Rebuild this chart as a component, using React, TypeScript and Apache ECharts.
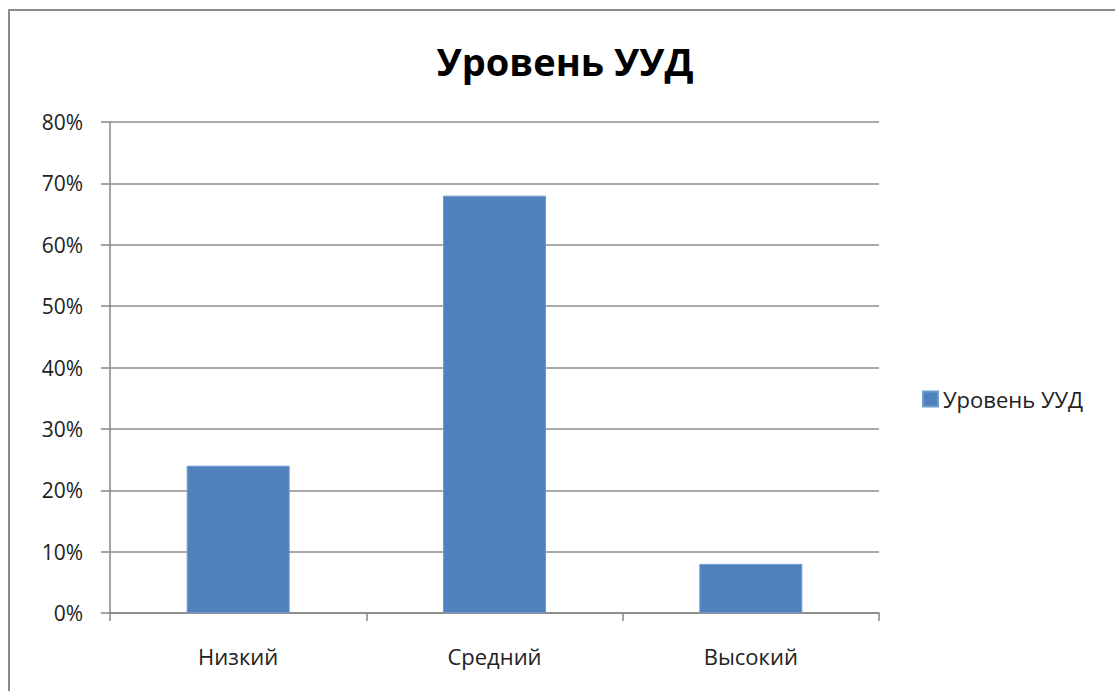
import React, { useEffect, useRef } from "react";
import * as echarts from "echarts";

const titleText = "Уровень УУД";
const seriesName = "Уровень УУД";
const categories = ["Низкий", "Средний", "Высокий"];
const values = [24, 68, 8];
const yMin = 0;
const yMax = 80;
const yStep = 10;

const FONT = "'Open Sans', 'Noto Sans', sans-serif";

export default function App() {
  const ref = useRef<HTMLDivElement>(null);
  useEffect(() => {
    if (!ref.current) return;
    const chart = echarts.init(ref.current, undefined, { renderer: "svg" });
    chart.setOption({
      animation: false,
      backgroundColor: "#ffffff",
      title: {
        text: titleText,
        left: 560,
        top: 37,
        textAlign: "center",
        textStyle: { fontFamily: FONT, fontWeight: "bold", fontSize: 38, color: "#000000" },
      },
      graphic: [
        {
          type: "rect",
          shape: { x: 9, y: 10, width: 1120, height: 700 },
          style: { fill: "none", stroke: "#8a8a8a", lineWidth: 2 },
          silent: true,
        },
      ],
      legend: {
        data: [seriesName],
        left: 917,
        top: 383,
        icon: "rect",
        itemWidth: 15,
        itemHeight: 15,
        textStyle: { fontFamily: FONT, fontSize: 22, color: "#222222" },
      },
      grid: { left: 110, top: 122, width: 769, height: 491, containLabel: false },
      xAxis: {
        type: "category",
        data: categories,
        axisLine: { show: true, lineStyle: { color: "#868686", width: 1.5 } },
        axisTick: { show: true, length: 8, alignWithLabel: false, lineStyle: { color: "#868686", width: 1.5 } },
        axisLabel: { margin: 32, fontFamily: FONT, fontSize: 22, color: "#222222" },
        splitLine: { show: false },
      },
      yAxis: {
        type: "value",
        min: yMin,
        max: yMax,
        interval: yStep,
        axisLine: { show: true, lineStyle: { color: "#868686", width: 1.5 } },
        axisTick: { show: true, length: 9, lineStyle: { color: "#868686", width: 1.5 } },
        axisLabel: {
          margin: 27,
          fontFamily: FONT,
          fontSize: 21,
          color: "#222222",
          formatter: (v: number) => `${v}%`,
        },
        splitLine: { show: true, lineStyle: { color: "#8c8c8c", width: 1.5 } },
      },
      series: [
        {
          name: seriesName,
          type: "bar",
          data: values,
          barWidth: 103,
          itemStyle: { color: "#4F81BD", borderColor: "#6f9bd0", borderWidth: 1 },
        },
      ],
    });
    return () => chart.dispose();
  }, []);
  return (
    <div
      ref={ref}
      style={{ position: "absolute", left: 0, top: 0, width: 1115, height: 691 }}
    />
  );
}
